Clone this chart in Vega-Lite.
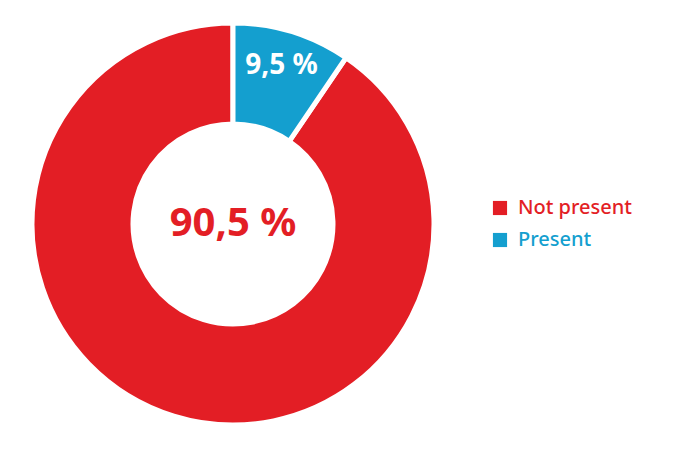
{
  "$schema": "https://vega.github.io/schema/vega-lite/v6.json",
  "width": 466,
  "height": 448,
  "padding": {"left": 0, "top": 0, "right": 209, "bottom": 2},
  "autosize": {"type": "none"},
  "background": "white",
  "config": {"view": {"stroke": null}, "font": "Noto Sans"},
  "data": {"values": [
    {"category": "Not present", "value": 90.5, "label": "90,5 %"},
    {"category": "Present", "value": 9.5, "label": "9,5 %"}
  ]},
  "encoding": {
    "theta": {"field": "value", "type": "quantitative", "stack": true},
    "order": {"field": "category", "sort": "descending"}
  },
  "layer": [
    {
      "mark": {"type": "arc", "outerRadius": 201, "innerRadius": 100, "stroke": "white", "strokeWidth": 5},
      "encoding": {
        "color": {
          "field": "category", "type": "nominal",
          "scale": {"domain": ["Not present", "Present"], "range": ["#e31e25", "#149fcf"]},
          "legend": {
            "title": null, "orient": "none", "legendX": 490, "legendY": 198,
            "symbolType": "square", "symbolSize": 200, "symbolStrokeWidth": 0,
            "labelFontSize": 20, "labelFont": "Noto Sans", "labelFontWeight": 500, "rowPadding": 12, "labelOffset": 8,
            "labelColor": {"expr": "datum.label == 'Present' ? '#149fcf' : '#e31e25'"}
          }
        }
      }
    },
    {
      "mark": {"type": "text", "radius": 165, "fontSize": 28, "fontWeight": "bold", "fill": "white", "baseline": "middle"},
      "encoding": {
        "text": {"condition": {"test": "datum.category == 'Present'", "field": "label"}, "value": ""}
      }
    },
    {
      "mark": {"type": "text", "radius": 0, "fontSize": 40, "fontWeight": "bold", "fill": "#e31e25", "baseline": "middle"},
      "encoding": {
        "text": {"condition": {"test": "datum.category == 'Not present'", "field": "label"}, "value": ""}
      }
    }
  ]
}
